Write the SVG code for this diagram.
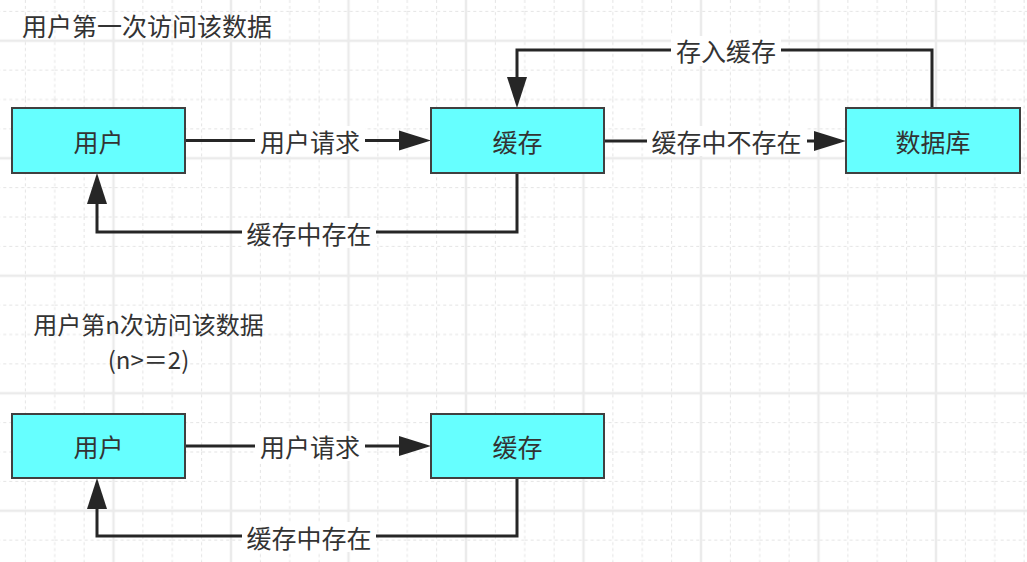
<svg xmlns="http://www.w3.org/2000/svg" width="1027" height="562" viewBox="0 0 1027 562">
<style>
.box{fill:#66ffff;stroke:#404040;stroke-width:2}
.t{font-family:"Noto Sans CJK SC","Noto Sans",sans-serif;font-size:25px;fill:#333333;dominant-baseline:central}
.c{text-anchor:middle}
.s{font-size:24px}
.ln{fill:none;stroke:#262626;stroke-width:3}
.ah{fill:#262626;stroke:none}
.lb{fill:#ffffff}
.minor{stroke:#e4e4e4;stroke-width:1;stroke-dasharray:3 3}
.major{stroke:#ebebeb;stroke-width:2.5}
</style>
<defs>
<pattern id="grid" patternUnits="userSpaceOnUse" x="54.75" y="99.5" width="117.5" height="117.5">
<path class="minor" d="M0 0V117.5M29.375 0V117.5M88.125 0V117.5M117.5 0V117.5M0 0H117.5M0 29.375H117.5M0 88.125H117.5M0 117.5H117.5"/>
<path class="major" d="M58.75 0V117.5M0 58.75H117.5"/>
</pattern>
</defs>
<rect width="1027" height="562" fill="#ffffff"/>
<rect width="1027" height="562" fill="url(#grid)"/>

<g id="titles">
<text class="t" x="22" y="25">用户第一次访问该数据</text>
<text class="t c s" x="148.5" y="323">用户第n次访问该数据</text>
<text class="t c s" x="148.5" y="358.5">(n&gt;＝2)</text>
</g>

<g id="connectors">
<g id="e1">
<path class="ln" d="M185 140.5H401"/>
<polygon class="ah" points="431,140.5 399,130.5 399,150.5"/>
<rect class="lb" x="255" y="126" width="110" height="30"/>
<text class="t c" x="310" y="141">用户请求</text>
</g>
<g id="e2">
<path class="ln" d="M604 141H815"/>
<polygon class="ah" points="846,141 814,131 814,151"/>
<rect class="lb" x="647" y="126" width="160" height="30"/>
<text class="t c" x="726.5" y="141">缓存中不存在</text>
</g>
<g id="e3">
<path class="ln" d="M932 108V50H517V79"/>
<polygon class="ah" points="517,108 507,77 527,77"/>
<rect class="lb" x="671" y="36" width="110" height="30"/>
<text class="t c" x="726" y="50">存入缓存</text>
</g>
<g id="e4">
<path class="ln" d="M517 173V232H97V202"/>
<polygon class="ah" points="97,173 87,204 107,204"/>
<rect class="lb" x="242" y="218" width="134" height="30"/>
<text class="t c" x="309" y="233">缓存中存在</text>
</g>
<g id="e5">
<path class="ln" d="M185 446H401"/>
<polygon class="ah" points="431,446 399,436 399,456"/>
<rect class="lb" x="255" y="431" width="110" height="30"/>
<text class="t c" x="310" y="446">用户请求</text>
</g>
<g id="e6">
<path class="ln" d="M517 478V536H97V507"/>
<polygon class="ah" points="97,478 87,509 107,509"/>
<rect class="lb" x="242" y="522" width="134" height="30"/>
<text class="t c" x="309" y="537">缓存中存在</text>
</g>
</g>

<g id="user1"><rect class="box" x="12" y="108" width="173" height="65"/><text class="t c" x="98.5" y="140.5">用户</text></g>
<g id="cache1"><rect class="box" x="431" y="108" width="173" height="65"/><text class="t c" x="517.5" y="140.5">缓存</text></g>
<g id="db"><rect class="box" x="846" y="108" width="174" height="65"/><text class="t c" x="933" y="140.5">数据库</text></g>
<g id="user2"><rect class="box" x="12" y="414" width="173" height="64"/><text class="t c" x="98.5" y="446">用户</text></g>
<g id="cache2"><rect class="box" x="431" y="414" width="173" height="64"/><text class="t c" x="517.5" y="446">缓存</text></g>
</svg>
